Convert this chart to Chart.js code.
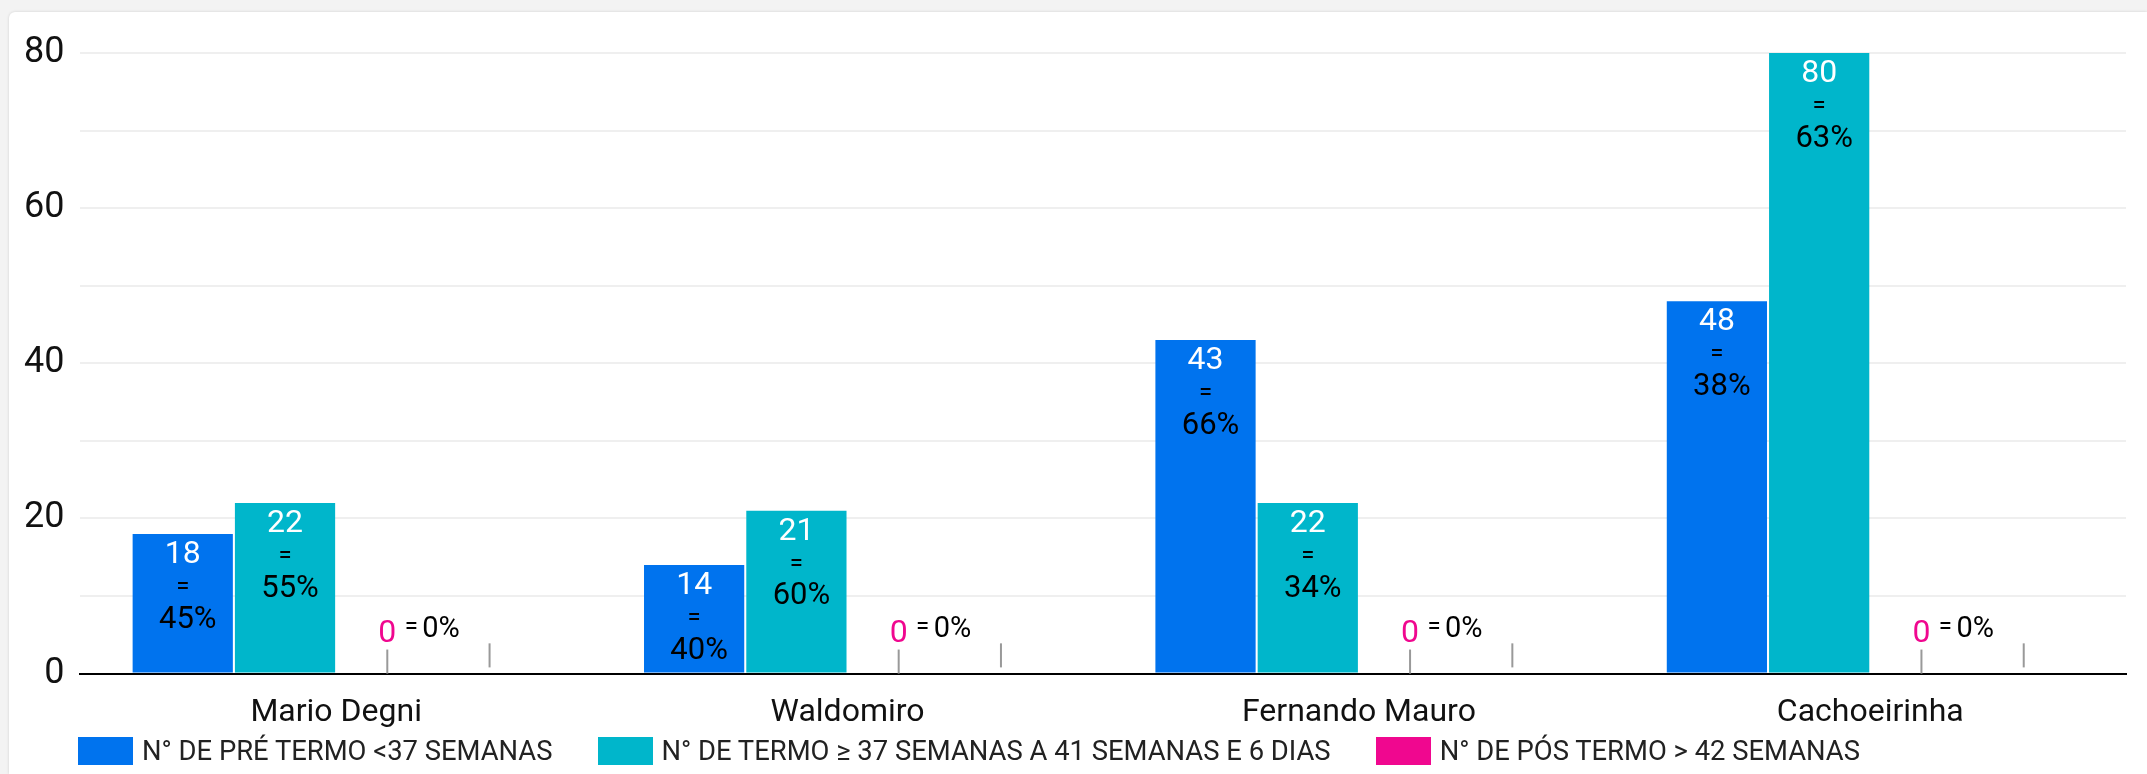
<!DOCTYPE html>
<html>
<head>
<meta charset="utf-8">
<script src="https://cdn.jsdelivr.net/npm/chart.js@4"></script>
<style>
  body { margin: 0; background: #f3f3f3; font-family: Roboto, sans-serif; }
  #card { position: absolute; left: 9px; top: 12px; right: 0; bottom: 0; background: #fff;
          border-radius: 6px 0 0 0; box-shadow: 0 0 3px rgba(0,0,0,0.15); }
  #wrap { position: absolute; left: 0; top: 0; width: 2147px; height: 774px; }
  #legend { position: absolute; left: 78px; top: 735px; display: flex; align-items: center;
            font: 27.4px Roboto, sans-serif; color: #222; }
  #legend .item { display: flex; align-items: center; margin-right: 45px; }
  #legend .box { width: 55px; height: 28px; margin-right: 9px; }
</style>
</head>
<body>
<div id="card"></div>
<div id="wrap"><canvas id="chartGestacao" width="2147" height="774"></canvas></div>
<div id="legend"></div>
<script>
/* dados */
const unidades = ['Mario Degni', 'Waldomiro', 'Fernando Mauro', 'Cachoeirinha'];
const preTermo = [18, 14, 43, 48];
const termo = [22, 21, 22, 80];
const posTermo = [0, 0, 0, 0];
const preTermoPct = [45, 40, 66, 38];
const termoPct = [55, 60, 34, 63];
const posTermoPct = [0, 0, 0, 0];
const yTicks = [0, 20, 40, 60, 80];
/* marcas cinzas (3a e 4a posicao) */
const markLow = [0, 0.8];
const markHigh = [3.1, 3.9];

const series = [
    { label: 'N° DE PRÉ TERMO <37 SEMANAS', data: preTermo, color: '#0073ee' },
    { label: 'N° DE TERMO ≥ 37 SEMANAS A 41 SEMANAS E 6 DIAS', data: termo, color: '#00b6cb' },
    { label: 'N° DE PÓS TERMO > 42 SEMANAS', data: posTermo, color: '#f0078f' },
];
const pcts = [preTermoPct, termoPct, posTermoPct];

/* rotulos das barras */
const barLabels = {
    id: 'barLabels',
    afterDatasetsDraw(chart) {
        const ctx = chart.ctx;
        const y = chart.scales.y;
        ctx.save();
        ctx.textAlign = 'center';
        ctx.textBaseline = 'middle';
        [0, 1].forEach(d => {
            chart.getDatasetMeta(d).data.forEach((bar, i) => {
                ctx.font = '32px Roboto';
                ctx.fillStyle = '#fff';
                ctx.fillText(series[d].data[i], bar.x, bar.y + 21);
                ctx.fillStyle = '#000';
                ctx.font = '24px Roboto';
                ctx.fillText('=', bar.x, bar.y + 54);
                ctx.font = '31px Roboto';
                ctx.fillText(pcts[d][i] + '%', bar.x + 5, bar.y + 86);
            });
        });
        // pos termo
        chart.getDatasetMeta(2).data.forEach((bar, i) => {
            const base = y.getPixelForValue(posTermo[i]);
            ctx.textAlign = 'center';
            ctx.font = '32px Roboto';
            ctx.fillStyle = series[2].color;
            ctx.fillText(posTermo[i], bar.x, base - 40);
            ctx.fillStyle = '#000';
            ctx.font = '24px Roboto';
            ctx.fillText('=', bar.x + 24, base - 46);
            ctx.textAlign = 'left';
            ctx.font = '29px Roboto';
            ctx.fillText(posTermoPct[i] + '%', bar.x + 35, base - 44);
        });
        // marcas cinzas
        ctx.strokeStyle = '#999';
        ctx.lineWidth = 2;
        [2, 3].forEach((d, k) => {
            chart.getDatasetMeta(d).data.forEach(bar => {
                ctx.beginPath();
                ctx.moveTo(bar.x, y.getPixelForValue(markLow[k]));
                ctx.lineTo(bar.x, y.getPixelForValue(markHigh[k]));
                ctx.stroke();
            });
        });
        ctx.restore();
    }
};

const datasets = series.map(s => ({
    label: s.label,
    data: s.data,
    backgroundColor: s.color,
    borderWidth: 0,
}));
datasets.push({ label: '', data: [0, 0, 0, 0], backgroundColor: 'rgba(0,0,0,0)' });

const ctxG = document.getElementById('chartGestacao');
const chartGestacao = new Chart(ctxG, {
    type: 'bar',
    data: { labels: unidades, datasets: datasets },
    options: {
        responsive: false,
        animation: false,
        datasets: { bar: { categoryPercentage: 0.8, barPercentage: 0.98 } },
        layout: { padding: { left: 8, right: 21, top: 53, bottom: 30 } },
        scales: {
            x: {
                grid: { display: false },
                border: { color: '#000', width: 2 },
                ticks: { color: '#111', font: { family: 'Roboto', size: 32 }, padding: 12 },
            },
            y: {
                min: 0,
                max: 80,
                grid: { color: '#efefef', lineWidth: 2, drawTicks: false },
                border: { display: false },
                ticks: {
                    stepSize: 10,
                    padding: 16,
                    color: '#111',
                    font: { family: 'Roboto', size: 36 },
                    callback: v => yTicks.includes(v) ? v : '',
                },
            },
        },
        plugins: {
            legend: { display: false },
            tooltip: { enabled: false },
        },
    },
    plugins: [barLabels],
});

/* legenda */
const leg = document.getElementById('legend');
series.forEach(s => {
    const item = document.createElement('div');
    item.className = 'item';
    item.innerHTML = '<span class="box" style="background:' + s.color + '"></span><span>' + s.label + '</span>';
    leg.appendChild(item);
});
</script>
</body>
</html>
